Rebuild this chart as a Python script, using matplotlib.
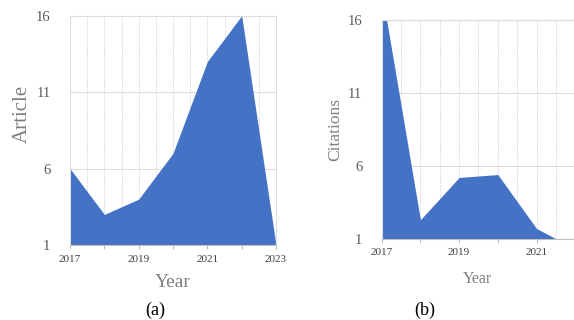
import matplotlib.pyplot as plt

#-----------------DONNEES-----------------#

annees_a = [2017, 2018, 2019, 2020, 2021, 2022, 2023]
articles = [6, 3, 4, 7, 13, 16, 1]

annees_b = [2017, 2018, 2019, 2020, 2021, 2021.5]
citations = [18, 2.3, 5.2, 5.4, 1.7, 1]

yticks = [1, 6, 11, 16]

bleu = '#4472C4'
grille = '#DDDDDD'

plt.rcParams['font.family'] = ['Liberation Serif', 'DejaVu Serif']

#-----------------FONCTIONS-----------------#

def panneau(ax, x, y, xmin, xmax, xlab, ylab, taille_lab):
    ax.fill_between(x, y, 1, color=bleu, linewidth=0, zorder=2)
    ax.set_xlim(xmin, xmax)
    ax.set_ylim(1, 16)
    ax.set_yticks(yticks)
    ax.set_xticks(range(xmin, int(xmax) + 1))
    ax.set_xticklabels([str(a) if (a - 2017) % 2 == 0 else '' for a in range(xmin, int(xmax) + 1)])
    ax.set_xticks([a + 0.5 for a in range(xmin, int(xmax))], minor=True)
    ax.grid(axis='y', color=grille, linewidth=0.8, zorder=0)
    ax.grid(axis='x', which='both', color=grille, linewidth=0.7, linestyle=(0, (2, 1)), zorder=0)
    ax.tick_params(axis='y', length=0, pad=14, labelsize=10.5, labelcolor='#595959')
    ax.tick_params(axis='x', which='major', length=3, color='#BFBFBF', pad=4, labelsize=8, labelcolor='#404040')
    ax.tick_params(axis='x', which='minor', length=0)
    for s in ['top', 'right', 'left']:
        ax.spines[s].set_color(grille)
    ax.spines['bottom'].set_color('#BFBFBF')
    ax.set_xlabel(xlab, fontsize=taille_lab, color='#7F7F7F')
    ax.set_ylabel(ylab, fontsize=taille_lab + 1, color='#7F7F7F')
    ax.xaxis.label.set_va('center')
    ax.yaxis.label.set_va('center')

#-----------------FIGURE-----------------#

fig = plt.figure(figsize=(5.74, 3.2), dpi=100)
ax1 = fig.add_axes([70 / 574, 1 - 245 / 320, 206 / 574, 229.3 / 320])
ax2 = fig.add_axes([381.7 / 574, 1 - 238.7 / 320, 193.5 / 574, 218.7 / 320])

panneau(ax1, annees_a, articles, 2017, 2023, 'Year', 'Article', 14)
panneau(ax2, annees_b, citations, 2017, 2022, 'Year', 'Citations', 11.5)

# positions des titres d'axes (centres, en pixels relatifs aux axes)
ax1.xaxis.set_label_coords(102.7 / 206, -37.7 / 229.3)
ax1.yaxis.set_label_coords(-47.3 / 206, 131 / 229.3)
ax2.xaxis.set_label_coords(96 / 193.5, -40.3 / 218.7)
ax2.yaxis.set_label_coords(-46 / 193.5, 108.7 / 218.7)

fig.text(155 / 574, 1 - 310 / 320, '(a)', ha='center', va='center', fontsize=13)
fig.text(425 / 574, 1 - 310 / 320, '(b)', ha='center', va='center', fontsize=13)

plt.savefig('out.png', dpi=100)
